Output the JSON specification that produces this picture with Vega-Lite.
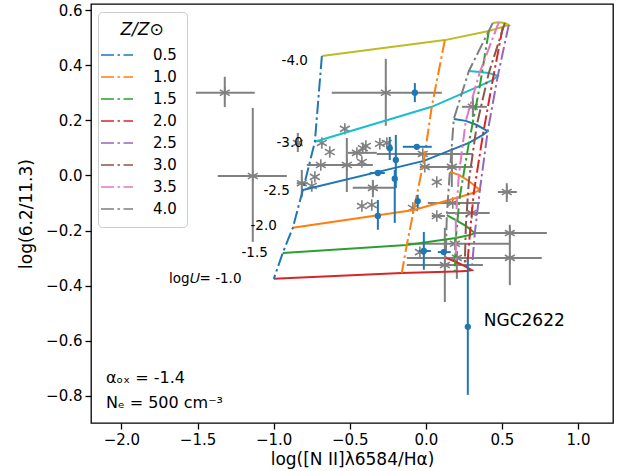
{
 "$schema": "https://vega.github.io/schema/vega-lite/v6.json",
 "width": 522,
 "height": 419,
 "autosize": "none",
 "padding": {"left": 91, "top": 4, "right": 10, "bottom": 48},
 "background": "white",
 "config": {
  "font": "DejaVu Sans",
  "view": {"stroke": "black", "strokeWidth": 1.3},
  "axis": {"domain": false, "grid": false, "tickColor": "black", "tickSize": 6, "tickWidth": 1.3, "labelFontSize": 15, "labelColor": "black", "labelFont": "DejaVu Sans", "titleFont": "DejaVu Sans", "titleFontSize": 17, "titleFontWeight": "normal", "titleColor": "black", "labelPadding": 3}
 },
 "datasets": {
  "grid": [
   {"Z": "0.5", "zn": 0.5, "logU": "-1.0", "un": -1.0, "x": -0.999, "y": -0.375},
   {"Z": "1.0", "zn": 1.0, "logU": "-1.0", "un": -1.0, "x": -0.158, "y": -0.354},
   {"Z": "1.5", "zn": 1.5, "logU": "-1.0", "un": -1.0, "x": 0.191, "y": -0.348},
   {"Z": "2.0", "zn": 2.0, "logU": "-1.0", "un": -1.0, "x": 0.269, "y": -0.347},
   {"Z": "2.5", "zn": 2.5, "logU": "-1.0", "un": -1.0, "x": 0.302, "y": -0.343},
   {"Z": "3.0", "zn": 3.0, "logU": "-1.0", "un": -1.0, "x": 0.256, "y": -0.329},
   {"Z": "3.5", "zn": 3.5, "logU": "-1.0", "un": -1.0, "x": 0.197, "y": -0.313},
   {"Z": "4.0", "zn": 4.0, "logU": "-1.0", "un": -1.0, "x": 0.131, "y": -0.299},
   {"Z": "0.5", "zn": 0.5, "logU": "-1.5", "un": -1.5, "x": -0.940, "y": -0.281},
   {"Z": "1.0", "zn": 1.0, "logU": "-1.5", "un": -1.5, "x": -0.125, "y": -0.252},
   {"Z": "1.5", "zn": 1.5, "logU": "-1.5", "un": -1.5, "x": 0.197, "y": -0.227},
   {"Z": "2.0", "zn": 2.0, "logU": "-1.5", "un": -1.5, "x": 0.289, "y": -0.216},
   {"Z": "2.5", "zn": 2.5, "logU": "-1.5", "un": -1.5, "x": 0.322, "y": -0.209},
   {"Z": "3.0", "zn": 3.0, "logU": "-1.5", "un": -1.5, "x": 0.263, "y": -0.183},
   {"Z": "3.5", "zn": 3.5, "logU": "-1.5", "un": -1.5, "x": 0.197, "y": -0.162},
   {"Z": "4.0", "zn": 4.0, "logU": "-1.5", "un": -1.5, "x": 0.138, "y": -0.144},
   {"Z": "0.5", "zn": 0.5, "logU": "-2.0", "un": -2.0, "x": -0.874, "y": -0.190},
   {"Z": "1.0", "zn": 1.0, "logU": "-2.0", "un": -2.0, "x": -0.079, "y": -0.125},
   {"Z": "1.5", "zn": 1.5, "logU": "-2.0", "un": -2.0, "x": 0.223, "y": -0.078},
   {"Z": "2.0", "zn": 2.0, "logU": "-2.0", "un": -2.0, "x": 0.315, "y": -0.063},
   {"Z": "2.5", "zn": 2.5, "logU": "-2.0", "un": -2.0, "x": 0.355, "y": -0.053},
   {"Z": "3.0", "zn": 3.0, "logU": "-2.0", "un": -2.0, "x": 0.283, "y": -0.020},
   {"Z": "3.5", "zn": 3.5, "logU": "-2.0", "un": -2.0, "x": 0.217, "y": 0.002},
   {"Z": "4.0", "zn": 4.0, "logU": "-2.0", "un": -2.0, "x": 0.158, "y": 0.013},
   {"Z": "0.5", "zn": 0.5, "logU": "-2.5", "un": -2.5, "x": -0.808, "y": -0.053},
   {"Z": "1.0", "zn": 1.0, "logU": "-2.5", "un": -2.5, "x": -0.013, "y": 0.053},
   {"Z": "1.5", "zn": 1.5, "logU": "-2.5", "un": -2.5, "x": 0.283, "y": 0.118},
   {"Z": "2.0", "zn": 2.0, "logU": "-2.5", "un": -2.5, "x": 0.375, "y": 0.147},
   {"Z": "2.5", "zn": 2.5, "logU": "-2.5", "un": -2.5, "x": 0.407, "y": 0.161},
   {"Z": "3.0", "zn": 3.0, "logU": "-2.5", "un": -2.5, "x": 0.335, "y": 0.183},
   {"Z": "3.5", "zn": 3.5, "logU": "-2.5", "un": -2.5, "x": 0.263, "y": 0.198},
   {"Z": "4.0", "zn": 4.0, "logU": "-2.5", "un": -2.5, "x": 0.184, "y": 0.205},
   {"Z": "0.5", "zn": 0.5, "logU": "-3.0", "un": -3.0, "x": -0.729, "y": 0.122},
   {"Z": "1.0", "zn": 1.0, "logU": "-3.0", "un": -3.0, "x": 0.039, "y": 0.249},
   {"Z": "1.5", "zn": 1.5, "logU": "-3.0", "un": -3.0, "x": 0.355, "y": 0.325},
   {"Z": "2.0", "zn": 2.0, "logU": "-3.0", "un": -3.0, "x": 0.440, "y": 0.347},
   {"Z": "2.5", "zn": 2.5, "logU": "-3.0", "un": -3.0, "x": 0.473, "y": 0.361},
   {"Z": "3.0", "zn": 3.0, "logU": "-3.0", "un": -3.0, "x": 0.414, "y": 0.372},
   {"Z": "3.5", "zn": 3.5, "logU": "-3.0", "un": -3.0, "x": 0.355, "y": 0.375},
   {"Z": "4.0", "zn": 4.0, "logU": "-3.0", "un": -3.0, "x": 0.283, "y": 0.379},
   {"Z": "0.5", "zn": 0.5, "logU": "-4.0", "un": -4.0, "x": -0.683, "y": 0.433},
   {"Z": "1.0", "zn": 1.0, "logU": "-4.0", "un": -4.0, "x": 0.125, "y": 0.491},
   {"Z": "1.5", "zn": 1.5, "logU": "-4.0", "un": -4.0, "x": 0.414, "y": 0.524},
   {"Z": "2.0", "zn": 2.0, "logU": "-4.0", "un": -4.0, "x": 0.506, "y": 0.539},
   {"Z": "2.5", "zn": 2.5, "logU": "-4.0", "un": -4.0, "x": 0.545, "y": 0.546},
   {"Z": "3.0", "zn": 3.0, "logU": "-4.0", "un": -4.0, "x": 0.519, "y": 0.553},
   {"Z": "3.5", "zn": 3.5, "logU": "-4.0", "un": -4.0, "x": 0.480, "y": 0.556},
   {"Z": "4.0", "zn": 4.0, "logU": "-4.0", "un": -4.0, "x": 0.440, "y": 0.553}
  ],
  "gray": [
   {"x": -1.321, "y": 0.300, "xlo": -1.511, "xhi": -1.124, "ylo": 0.248, "yhi": 0.358},
   {"x": -1.137, "y": -0.002, "xlo": -1.367, "xhi": -0.913, "ylo": -0.241, "yhi": 0.245},
   {"x": -0.263, "y": 0.300, "xlo": -0.618, "xhi": 0.105, "ylo": 0.180, "yhi": 0.423},
   {"x": -0.841, "y": 0.118, "xlo": null, "xhi": null, "ylo": 0.085, "yhi": 0.154},
   {"x": -0.532, "y": 0.169, "xlo": null, "xhi": null, "ylo": null, "yhi": null},
   {"x": -0.683, "y": 0.118, "xlo": null, "xhi": null, "ylo": null, "yhi": null},
   {"x": -0.631, "y": 0.085, "xlo": null, "xhi": null, "ylo": null, "yhi": null},
   {"x": -0.690, "y": 0.038, "xlo": -0.782, "xhi": -0.348, "ylo": null, "yhi": null},
   {"x": -0.519, "y": 0.038, "xlo": null, "xhi": null, "ylo": -0.060, "yhi": 0.136},
   {"x": -0.729, "y": -0.005, "xlo": null, "xhi": null, "ylo": null, "yhi": null},
   {"x": -0.749, "y": -0.038, "xlo": null, "xhi": null, "ylo": null, "yhi": null},
   {"x": -0.815, "y": -0.028, "xlo": -0.848, "xhi": -0.775, "ylo": -0.079, "yhi": 0.020},
   {"x": -0.414, "y": 0.099, "xlo": null, "xhi": null, "ylo": null, "yhi": null},
   {"x": -0.453, "y": 0.082, "xlo": -0.512, "xhi": -0.322, "ylo": null, "yhi": null},
   {"x": -0.420, "y": 0.049, "xlo": null, "xhi": null, "ylo": null, "yhi": null},
   {"x": -0.394, "y": 0.107, "xlo": null, "xhi": null, "ylo": null, "yhi": null},
   {"x": -0.302, "y": 0.115, "xlo": null, "xhi": null, "ylo": null, "yhi": null},
   {"x": -0.256, "y": 0.118, "xlo": null, "xhi": null, "ylo": null, "yhi": null},
   {"x": -0.020, "y": 0.078, "xlo": -0.322, "xhi": 0.309, "ylo": null, "yhi": null},
   {"x": -0.348, "y": -0.045, "xlo": -0.480, "xhi": -0.204, "ylo": -0.079, "yhi": -0.016},
   {"x": -0.420, "y": -0.111, "xlo": null, "xhi": null, "ylo": null, "yhi": null},
   {"x": -0.355, "y": -0.107, "xlo": null, "xhi": null, "ylo": null, "yhi": null},
   {"x": -0.085, "y": -0.118, "xlo": null, "xhi": null, "ylo": null, "yhi": null},
   {"x": -0.007, "y": 0.031, "xlo": -0.039, "xhi": 0.309, "ylo": null, "yhi": null},
   {"x": 0.072, "y": -0.024, "xlo": null, "xhi": null, "ylo": null, "yhi": null},
   {"x": 0.171, "y": 0.031, "xlo": null, "xhi": null, "ylo": -0.042, "yhi": 0.099},
   {"x": 0.309, "y": 0.249, "xlo": 0.237, "xhi": 0.401, "ylo": 0.212, "yhi": 0.285},
   {"x": 0.532, "y": -0.060, "xlo": 0.473, "xhi": 0.598, "ylo": -0.096, "yhi": -0.028},
   {"x": 0.072, "y": -0.147, "xlo": 0.039, "xhi": 0.125, "ylo": null, "yhi": null},
   {"x": 0.302, "y": -0.136, "xlo": 0.145, "xhi": 0.420, "ylo": null, "yhi": null},
   {"x": 0.552, "y": -0.209, "xlo": 0.322, "xhi": 0.795, "ylo": -0.234, "yhi": -0.179},
   {"x": 0.552, "y": -0.299, "xlo": 0.335, "xhi": 0.762, "ylo": -0.398, "yhi": -0.234},
   {"x": -0.039, "y": -0.278, "xlo": null, "xhi": null, "ylo": null, "yhi": null},
   {"x": 0.125, "y": -0.325, "xlo": -0.125, "xhi": 0.375, "ylo": -0.459, "yhi": -0.190},
   {"x": 0.204, "y": -0.299, "xlo": -0.125, "xhi": 0.486, "ylo": -0.375, "yhi": -0.274},
   {"x": 0.191, "y": -0.248, "xlo": -0.125, "xhi": 0.552, "ylo": null, "yhi": null},
   {"x": 0.177, "y": -0.100, "xlo": 0.013, "xhi": 0.355, "ylo": null, "yhi": null}
  ],
  "blue": [
   {"x": -0.072, "y": 0.300, "xlo": null, "xhi": null, "ylo": 0.266, "yhi": 0.335},
   {"x": -0.237, "y": 0.099, "xlo": null, "xhi": null, "ylo": 0.056, "yhi": 0.140},
   {"x": -0.197, "y": 0.056, "xlo": null, "xhi": null, "ylo": -0.046, "yhi": 0.147},
   {"x": -0.204, "y": -0.012, "xlo": null, "xhi": null, "ylo": -0.172, "yhi": 0.020},
   {"x": -0.059, "y": 0.104, "xlo": -0.151, "xhi": 0.039, "ylo": null, "yhi": null},
   {"x": -0.315, "y": 0.009, "xlo": -0.368, "xhi": -0.269, "ylo": null, "yhi": null},
   {"x": -0.315, "y": -0.147, "xlo": null, "xhi": null, "ylo": -0.197, "yhi": -0.089},
   {"x": -0.053, "y": -0.093, "xlo": null, "xhi": null, "ylo": -0.118, "yhi": -0.070},
   {"x": -0.013, "y": -0.274, "xlo": -0.046, "xhi": 0.033, "ylo": -0.342, "yhi": -0.205},
   {"x": 0.118, "y": -0.278, "xlo": 0.079, "xhi": 0.164, "ylo": null, "yhi": null},
   {"x": 0.276, "y": -0.549, "xlo": null, "xhi": null, "ylo": -0.796, "yhi": -0.306}
  ],
  "ulab": [
   {"x": -0.775, "y": 0.416, "t": "-4.0"},
   {"x": -0.808, "y": 0.117, "t": "-3.0"},
   {"x": -0.894, "y": -0.055, "t": "-2.5"},
   {"x": -0.979, "y": -0.182, "t": "-2.0"},
   {"x": -1.038, "y": -0.282, "t": "-1.5"},
   {"x": -1.211, "y": -0.375, "t": "log𝑈= -1.0"}
  ],
  "notes": [
   {"x": -2.102, "y": -0.734, "t": "αₒₓ = -1.4"},
   {"x": -2.102, "y": -0.825, "t": "Nₑ = 500 cm⁻³"}
  ],
  "obj": [
   {"x": 0.381, "y": -0.528, "t": "NGC2622"}
  ]
 },
 "layer": [
  {
   "data": {"name": "gray"},
   "transform": [{"filter": "datum.xlo != null"}],
   "mark": {"type": "rule", "color": "gray", "strokeWidth": 2},
   "encoding": {
    "x": {"field": "xlo", "type": "quantitative", "scale": {"domain": [-2.2, 1.23], "nice": false, "zero": false}, "axis": {"values": [-2, -1.5, -1, -0.5, 0, 0.5, 1], "format": ".1f", "title": "log([N II]λ6584/Hα)", "titlePadding": 4}},
    "x2": {"field": "xhi"},
    "y": {"field": "y", "type": "quantitative", "scale": {"domain": [-0.898, 0.622], "nice": false, "zero": false}, "axis": {"values": [-0.8, -0.6, -0.4, -0.2, 0, 0.2, 0.4, 0.6], "format": ".1f", "title": "log(6.2/11.3)", "titlePadding": 10}}
   }
  },
  {
   "data": {"name": "gray"},
   "transform": [{"filter": "datum.ylo != null"}],
   "mark": {"type": "rule", "color": "gray", "strokeWidth": 2},
   "encoding": {
    "x": {"field": "x", "type": "quantitative"},
    "y": {"field": "ylo", "type": "quantitative"},
    "y2": {"field": "yhi"}
   }
  },
  {
   "data": {"name": "gray"},
   "mark": {"type": "point", "shape": "M0,-1L0,1M-0.87,-0.5L0.87,0.5M-0.87,0.5L0.87,-0.5", "filled": false, "stroke": "gray", "strokeWidth": 1.6, "size": 130, "opacity": 1},
   "encoding": {
    "x": {"field": "x", "type": "quantitative"},
    "y": {"field": "y", "type": "quantitative"}
   }
  },
  {
   "data": {"name": "grid"},
   "mark": {"type": "line", "strokeWidth": 2},
   "encoding": {
    "x": {"field": "x", "type": "quantitative"},
    "y": {"field": "y", "type": "quantitative"},
    "order": {"field": "zn", "type": "quantitative"},
    "color": {"field": "logU", "type": "nominal", "scale": {"domain": ["-1.0", "-1.5", "-2.0", "-2.5", "-3.0", "-4.0"], "range": ["#d62728", "#2ca02c", "#ff7f0e", "#1f77b4", "#17becf", "#bcbd22"]}, "legend": null}
   }
  },
  {
   "data": {"name": "grid"},
   "mark": {"type": "line", "strokeWidth": 2, "strokeDash": [13, 3.5, 2.5, 3.5]},
   "encoding": {
    "x": {"field": "x", "type": "quantitative"},
    "y": {"field": "y", "type": "quantitative"},
    "order": {"field": "un", "type": "quantitative"},
    "color": {"field": "Z", "type": "nominal", "scale": {"domain": ["0.5", "1.0", "1.5", "2.0", "2.5", "3.0", "3.5", "4.0"], "range": ["#1f77b4", "#ff7f0e", "#2ca02c", "#d62728", "#9467bd", "#8c564b", "#e377c2", "#7f7f7f"]},
     "legend": {"title": "Z/Z⊙", "orient": "none", "legendX": 7, "legendY": 8, "symbolType": "M-2,0H2", "symbolSize": 256, "symbolDash": [13, 3.5, 2.5, 3.5], "symbolStrokeWidth": 1.6, "labelFontSize": 15, "labelColor": "black", "titleFontSize": 17, "titleFontStyle": "italic", "titleFontWeight": "normal", "titleColor": "black", "titleAnchor": "middle", "titlePadding": 7, "padding": 10, "fillColor": "white", "strokeColor": "#cccccc", "cornerRadius": 4, "rowPadding": 5, "labelOffset": 27}}
   }
  },
  {
   "data": {"name": "blue"},
   "transform": [{"filter": "datum.xlo != null"}],
   "mark": {"type": "rule", "color": "#1f77b4", "strokeWidth": 2},
   "encoding": {
    "x": {"field": "xlo", "type": "quantitative"},
    "x2": {"field": "xhi"},
    "y": {"field": "y", "type": "quantitative"}
   }
  },
  {
   "data": {"name": "blue"},
   "transform": [{"filter": "datum.ylo != null"}],
   "mark": {"type": "rule", "color": "#1f77b4", "strokeWidth": 2},
   "encoding": {
    "x": {"field": "x", "type": "quantitative"},
    "y": {"field": "ylo", "type": "quantitative"},
    "y2": {"field": "yhi"}
   }
  },
  {
   "data": {"name": "blue"},
   "mark": {"type": "point", "shape": "circle", "filled": true, "color": "#1f77b4", "size": 40, "opacity": 1},
   "encoding": {
    "x": {"field": "x", "type": "quantitative"},
    "y": {"field": "y", "type": "quantitative"}
   }
  },
  {
   "data": {"name": "ulab"},
   "mark": {"type": "text", "align": "right", "baseline": "middle", "fontSize": 13.5, "color": "black"},
   "encoding": {
    "x": {"field": "x", "type": "quantitative"},
    "y": {"field": "y", "type": "quantitative"},
    "text": {"field": "t"}
   }
  },
  {
   "data": {"name": "notes"},
   "mark": {"type": "text", "align": "left", "baseline": "middle", "fontSize": 16, "color": "black"},
   "encoding": {
    "x": {"field": "x", "type": "quantitative"},
    "y": {"field": "y", "type": "quantitative"},
    "text": {"field": "t"}
   }
  },
  {
   "data": {"name": "obj"},
   "mark": {"type": "text", "align": "left", "baseline": "middle", "fontSize": 17, "color": "black"},
   "encoding": {
    "x": {"field": "x", "type": "quantitative"},
    "y": {"field": "y", "type": "quantitative"},
    "text": {"field": "t"}
   }
  }
 ],
 "resolve": {"scale": {"color": "independent"}}
}
